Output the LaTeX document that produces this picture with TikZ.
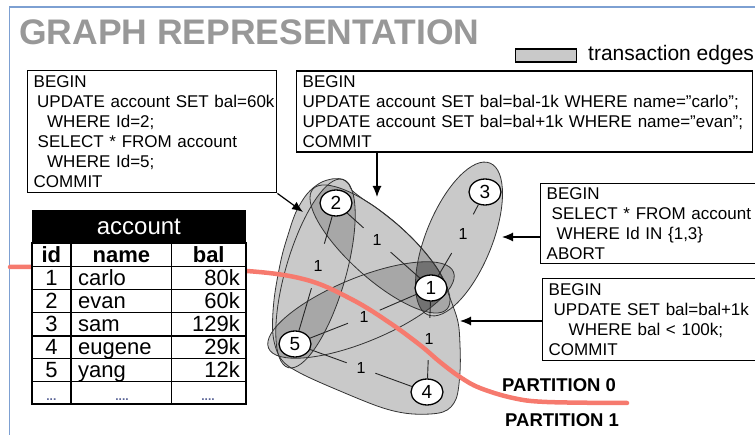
\documentclass[tikz,border=0pt]{standalone}
\usepackage{fontspec}
\setmainfont{Liberation Sans}
\usetikzlibrary{arrows.meta,shapes.geometric}
\definecolor{framec}{RGB}{125,160,210}
\definecolor{titlec}{RGB}{152,152,152}
\definecolor{hullc}{RGB}{201,201,201}
\definecolor{partc}{RGB}{246,122,110}
\definecolor{dotc}{RGB}{90,100,150}
\tikzset{
 sqlbox/.style={draw, line width=1.4pt, fill=white, align=left, anchor=north west, inner xsep=6pt, inner ysep=0pt, font=\fontsize{17}{20}\selectfont},
 gnode/.style={ellipse, draw, line width=1.3pt, fill=white, minimum width=32pt, minimum height=26pt, inner sep=0pt, font=\fontsize{19}{19}\selectfont},
 elab/.style={circle, inner sep=0pt, font=\fontsize{16}{16}\selectfont},
 eline/.style={draw=black!85, line width=0.9pt},
 hyper/.style={draw=black!80, line width=0.8pt},
 ovl/.style={fill=black, fill opacity=0.17},
 arr/.style={draw, line width=1.2pt, -{Latex[length=11pt,width=9pt]}},
 cell/.style={inner sep=0pt, anchor=base, font=\fontsize{22}{22}\selectfont},
 hcell/.style={inner sep=0pt, anchor=base, font=\fontsize{22}{22}\selectfont\bfseries},
 tline/.style={line width=1.4pt},
 Ea/.style={shift={(380,249)}, rotate=-41.8},
 Eb/.style={shift={(459,239)}, rotate=67.8},
 Ec/.style={shift={(315.5,273.5)}, rotate=73.8},
 Ed/.style={shift={(361,310)}, rotate=22.4},
}
\begin{document}
\begin{tikzpicture}[x=1pt,y=-1pt]
\useasboundingbox (0,0) rectangle (755,435);
\clip (0,0) rectangle (755,435);
% frame
\draw[framec, line width=1.5pt] (9.5,440) -- (9.5,7) -- (760,7);
% title
\node[anchor=base west, text=titlec, inner sep=0pt, font=\fontsize{35.5}{35.5}\selectfont\bfseries] (title) at (19,44.5) {GRAPH REPRESENTATION};
% legend
\node[draw, line width=1.2pt, fill=hullc, minimum width=61pt, minimum height=13pt, inner sep=0pt, anchor=north west] (legbox) at (515,48.5) {};
\node[anchor=base west, inner sep=0pt, font=\fontsize{21}{21}\selectfont] (legtext) at (588,61) {transaction edges};
% hull fill
\fill[hullc] plot[smooth cycle, tension=0.55] coordinates {(296,212) (307,194) (320,183) (333,178.8) (343,179.5) (349,184.3) (352,190.4) (363.8,199.6) (376.5,208) (400,226.7) (421.3,247.9) (439.6,272.3) (450,298) (458,322) (460,345) (460,372) (456,399) (443,412) (413,414) (383,408) (340,391) (300,373) (281,359) (273,335) (274,300) (281,260) (288,235)};
% ellipse fills
\fill[hullc, Ea] (0,0) ellipse (90pt and 30pt);
\fill[hullc, Eb] (0,0) ellipse (82pt and 33pt);
\fill[hullc, Ec] (0,0) ellipse (98pt and 30pt);
\fill[hullc, Ed] (0,0) ellipse (100pt and 32pt);
% overlaps
\begin{scope}\clip[Ea] (0,0) ellipse (90pt and 30pt); \fill[ovl, Ec] (0,0) ellipse (98pt and 30pt);\end{scope}
\begin{scope}\clip[Ea] (0,0) ellipse (90pt and 30pt); \fill[ovl, Ed] (0,0) ellipse (100pt and 32pt);\end{scope}
\begin{scope}\clip[Ea] (0,0) ellipse (90pt and 30pt); \fill[ovl, Eb] (0,0) ellipse (82pt and 33pt);\end{scope}
\begin{scope}\clip[Ec] (0,0) ellipse (98pt and 30pt); \fill[ovl, Ed] (0,0) ellipse (100pt and 32pt);\end{scope}
\begin{scope}\clip[Eb] (0,0) ellipse (82pt and 33pt); \fill[ovl, Ed] (0,0) ellipse (100pt and 32pt);\end{scope}
% borders
\draw[hyper] plot[smooth cycle, tension=0.55] coordinates {(296,212) (307,194) (320,183) (333,178.8) (343,179.5) (349,184.3) (352,190.4) (363.8,199.6) (376.5,208) (400,226.7) (421.3,247.9) (439.6,272.3) (450,298) (458,322) (460,345) (460,372) (456,399) (443,412) (413,414) (383,408) (340,391) (300,373) (281,359) (273,335) (274,300) (281,260) (288,235)};
\draw[hyper, Ea] (0,0) ellipse (90pt and 30pt);
\draw[hyper, Eb] (0,0) ellipse (82pt and 33pt);
\draw[hyper, Ec] (0,0) ellipse (98pt and 30pt);
\draw[hyper, Ed] (0,0) ellipse (100pt and 32pt);
% graph nodes
\node[gnode] (n2) at (336,203) {2};
\node[gnode] (n1) at (431,288) {1};
\node[gnode] (n3) at (485,192) {3};
\node[gnode] (n5) at (295,344) {5};
\node[gnode] (n4) at (427,392) {4};
% edge labels
\node[elab, minimum size=36pt] (l21) at (377,240) {1};
\node[elab, minimum size=46pt] (l25) at (318,266) {1};
\node[elab, minimum size=44pt] (l31) at (463,234) {1};
\node[elab, minimum size=34pt] (l51) at (364,317) {1};
\node[elab, minimum size=42pt] (l14) at (429,339) {1};
\node[elab, minimum size=30pt] (l54) at (361,368) {1};
% edges
\draw[eline] (n2) -- (l21) (l21) -- (n1);
\draw[eline] (n2) -- (l25) (l25) -- (n5);
\draw[eline] (n3) -- (l31) (l31) -- (n1);
\draw[eline] (n1) -- (l51) (l51) -- (n5);
\draw[eline] (n1) -- (l14) (l14) -- (n4);
\draw[eline] (n5) -- (l54) (l54) -- (n4);
% partition
\draw[partc, line width=4.5pt, line cap=round] plot[smooth, tension=0.6] coordinates {(10,267) (60,267) (150,268) (247,271) (307,280) (353,300) (390,323) (420,345) (440,362) (460,377) (480,388) (513,398) (547,402) (627,403)};
\node[anchor=base west, inner sep=0pt, font=\fontsize{18.5}{18.5}\selectfont\bfseries] (p0) at (502,391.5) {PARTITION 0};
\node[anchor=base west, inner sep=0pt, font=\fontsize{18.5}{18.5}\selectfont\bfseries] (p1) at (505,427) {PARTITION 1};
% table
\node[fill=black, text=white, anchor=north west, inner sep=0pt, minimum width=214pt, minimum height=33.3pt, font=\fontsize{24}{24}\selectfont] (acchead) at (31.7,210) {account};
\fill[white] (31.7,243.3) rectangle (245.7,404);
\foreach \yy in {266.7,289.3,312.7,336,358.3,381.7} \draw[tline] (31.7,\yy) -- (245.7,\yy);
\foreach \xx in {71,171.7} \draw[tline] (\xx,243.3) -- (\xx,404);
\draw[line width=1.8pt] (31.7,243.3) rectangle (245.7,404);
\node[hcell] (hid) at (51.4,262.5) {id};
\node[hcell] (hname) at (121.4,262.5) {name};
\node[hcell] (hbal) at (208.7,262.5) {bal};
\foreach \i/\nm/\bl in {1/carlo/80k,2/evan/60k,3/sam/129k,4/eugene/29k,5/yang/12k}{
  \node[cell] (id\i) at (51.4,{285.9+23*(\i-1)}) {\i};
  \node[cell, anchor=base west] (nm\i) at (78,{285.9+23*(\i-1)}) {\nm};
  \node[cell, anchor=base east] (bal\i) at (240,{285.9+23*(\i-1)}) {\bl};
}
\node[inner sep=0pt, anchor=base, text=dotc, font=\fontsize{12}{12}\selectfont\bfseries] (d1) at (51.4,401) {...};
\node[inner sep=0pt, anchor=base, text=dotc, font=\fontsize{12}{12}\selectfont\bfseries] (d2) at (122,401) {....};
\node[inner sep=0pt, anchor=base, text=dotc, font=\fontsize{12}{12}\selectfont\bfseries] (d3) at (208,401) {....};
% SQL boxes
\node[sqlbox, text width=237pt, minimum height=122pt] (boxA) at (27,70) {BEGIN\\
\mbox{\hspace*{3.5pt}UPDATE account SET bal=60k}\\
\hspace*{13.5pt}WHERE Id=2;\\
\hspace*{4pt}SELECT * FROM account\\
\hspace*{13.5pt}WHERE Id=5;\\
COMMIT};
\node[sqlbox, text width=444pt, minimum height=81pt] (boxB) at (296,70.5) {BEGIN\\
\mbox{UPDATE account SET bal=bal-1k WHERE name="carlo";}\\
\mbox{UPDATE account SET bal=bal+1k WHERE name="evan";}\\
COMMIT};
\node[sqlbox, text width=218pt, minimum height=80pt] (boxC) at (540,183) {BEGIN\\
\hspace*{5pt}SELECT * FROM account\\
\hspace*{10pt}WHERE Id IN \{1,3\}\\
ABORT};
\node[sqlbox, text width=218pt, minimum height=82pt] (boxD) at (542,278) {BEGIN\\
\hspace*{5pt}UPDATE SET bal=bal+1k\\
\hspace*{20pt}WHERE bal < 100k;\\
COMMIT};
% arrows
\coordinate (tipA) at (303,212);
\coordinate (tipB) at (377,197);
\coordinate (tipC) at (502,237);
\coordinate (tipD) at (460,321);
\draw[arr] (boxA.south east) -- (tipA);
\draw[arr] (tipB |- boxB.south) -- (tipB);
\draw[arr] (tipC -| boxC.west) -- (tipC);
\draw[arr] (tipD -| boxD.west) -- (tipD);
\end{tikzpicture}
\end{document}
